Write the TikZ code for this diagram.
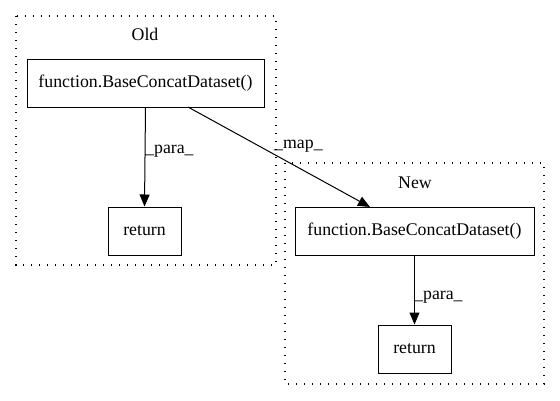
\documentclass[tikz,border=0pt]{standalone}
\usepackage{fontspec}
\setmainfont{Liberation Serif}
\usetikzlibrary{arrows.meta}
\begin{document}
\begin{tikzpicture}[x=1pt,y=-1pt,
  box/.style={draw,line width=1pt,minimum height=48pt,inner sep=0pt,font=\fontsize{17.8}{20}\selectfont},
  cluster/.style={draw,line width=1.1pt,dash pattern=on 1.4pt off 6.6pt},
  lbl/.style={font=\fontsize{17.8}{20}\selectfont,inner sep=0pt},
  edge/.style={-{Triangle[length=12pt,width=10pt]},line width=1pt}]
\useasboundingbox (0,0) rectangle (560,400);
\draw[cluster] (16,16) rectangle (276,265);
\draw[cluster] (285,163) rectangle (544,384);
\node[lbl] (oldl) at (145,34) {Old};
\node[lbl] (newl) at (415,183) {New};
\node[box,minimum width=237pt] (of) at (145.5,83) {function.BaseConcatDataset()};
\node[box,minimum width=73pt] (or) at (144.5,231) {return};
\node[box,minimum width=239pt] (nf) at (414.5,231) {function.BaseConcatDataset()};
\node[box,minimum width=73pt] (nr) at (414.5,349) {return};
\draw[edge] (of.south) -- (or.north);
\draw[edge] (nf.south) -- (nr.north);
\draw[edge] (188,107) coordinate (ms) -- (370,207) coordinate (me);
\node[lbl,anchor=west] (pl1) at (145,151) {\_para\_};
\node[lbl,anchor=west] (pl2) at (414,297) {\_para\_};
\node[lbl,anchor=west] (ml) at (274,146) {\_map\_};
\end{tikzpicture}
\end{document}
